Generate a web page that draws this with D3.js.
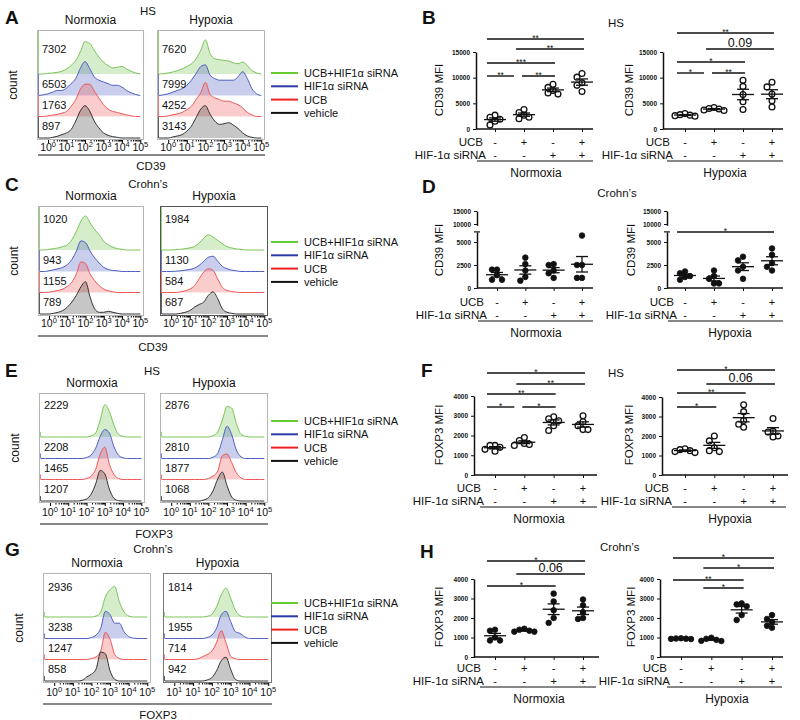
<!DOCTYPE html>
<html>
<head>
<meta charset="utf-8">
<script src="https://cdn.jsdelivr.net/npm/d3@7"></script>
<style>
  body { margin: 0; background: #fff; }
  svg text { font-family: "Liberation Sans", Arial, sans-serif; fill: #111; }
</style>
</head>
<body>
<svg id="fig" width="800" height="720"></svg>
<script>
// ---- data ---------------------------------------------------------------

// Flow histograms are sampled on this log10 grid (decades).
var hist_decades = [-0.5, -0.25, 0, 0.25, 0.5, 0.75, 1, 1.25, 1.5, 1.75, 2, 2.25,
                    2.5, 2.75, 3, 3.25, 3.5, 3.75, 4, 4.25, 4.5, 4.75, 5];
var hist_series = ["UCB+HIF1α siRNA", "HIF1α siRNA", "UCB", "vehicle"];
var tick_decades = [0, 1, 2, 3, 4, 5];
var tick_exps = ["0", "1", "2", "3", "4", "5"];
var tick_exps_g_hyp = ["1", "1", "2", "3", "4", "5"];

// A: HS, CD39
var a_norm_mfi = [7302, 6503, 1763, 897];
var a_norm_hist = [
  [0,0,0.02,0.03,0.05,0.08,0.15,0.25,0.4,0.65,0.95,0.9,0.7,0.5,0.35,0.25,0.18,0.2,0.22,0.15,0.08,0.03,0],
  [0,0.02,0.05,0.1,0.15,0.15,0.22,0.35,0.5,0.8,1.0,0.8,0.55,0.45,0.4,0.35,0.3,0.3,0.25,0.15,0.08,0.03,0],
  [0,0,0.02,0.04,0.06,0.1,0.15,0.3,0.5,0.8,0.95,0.95,0.75,0.55,0.35,0.22,0.15,0.12,0.08,0.05,0.02,0,0],
  [0,0,0,0.02,0.05,0.1,0.15,0.25,0.5,0.8,0.95,0.8,0.5,0.3,0.15,0.08,0.04,0.02,0,0,0,0,0]
];
var a_hyp_mfi = [7620, 7999, 4252, 3143];
var a_hyp_hist = [
  [0,0.01,0.03,0.06,0.1,0.15,0.22,0.3,0.45,0.7,1.0,0.6,0.45,0.42,0.4,0.38,0.33,0.3,0.35,0.25,0.1,0.03,0],
  [0,0.02,0.05,0.1,0.15,0.2,0.3,0.45,0.65,0.85,0.9,0.6,0.5,0.45,0.45,0.45,0.45,0.55,0.7,0.5,0.2,0.05,0],
  [0,0,0.02,0.05,0.08,0.12,0.2,0.3,0.5,0.7,1.0,0.65,0.55,0.5,0.45,0.45,0.4,0.35,0.25,0.12,0.05,0,0],
  [0,0,0,0.03,0.06,0.1,0.2,0.35,0.6,0.85,0.95,0.7,0.5,0.4,0.42,0.45,0.38,0.28,0.15,0.06,0.02,0,0]
];

// C: Crohn's, CD39
var c_norm_mfi = [1020, 943, 1155, 789];
var c_norm_hist = [
  [0,0,0.02,0.04,0.06,0.1,0.15,0.3,0.55,0.85,1.0,0.8,0.6,0.45,0.25,0.15,0.08,0.04,0.02,0,0,0,0],
  [0,0,0.02,0.05,0.08,0.12,0.2,0.35,0.6,0.9,0.85,0.6,0.4,0.25,0.12,0.06,0.03,0.02,0,0,0,0,0],
  [0,0,0.01,0.03,0.06,0.1,0.18,0.3,0.55,0.9,0.85,0.55,0.35,0.2,0.1,0.05,0.02,0,0,0,0,0,0],
  [0,0,0,0.02,0.05,0.1,0.2,0.35,0.55,0.8,0.95,0.5,0.15,0.05,0.05,0.08,0.05,0.02,0,0,0,0,0]
];
var c_hyp_mfi = [1984, 1130, 584, 687];
var c_hyp_hist = [
  [0,0,0,0.01,0.02,0.04,0.06,0.1,0.2,0.35,0.45,0.38,0.28,0.18,0.1,0.06,0.03,0.02,0,0,0,0,0],
  [0,0,0,0.01,0.02,0.04,0.06,0.1,0.18,0.3,0.42,0.45,0.3,0.15,0.08,0.04,0.02,0,0,0,0,0,0],
  [0,0,0,0,0.02,0.05,0.1,0.2,0.4,0.6,0.7,0.65,0.4,0.15,0.06,0.03,0.01,0,0,0,0,0,0],
  [0,0,0,0,0.02,0.05,0.1,0.2,0.28,0.35,0.55,0.65,0.45,0.15,0.05,0.02,0,0,0,0,0,0,0]
];

// E: HS, FOXP3
var e_norm_mfi = [2229, 2208, 1465, 1207];
var e_norm_hist = [
  [0,0,0,0,0,0,0,0,0,0,0,0.03,0.12,0.5,0.95,0.75,0.35,0.08,0.02,0,0,0,0],
  [0,0,0,0,0,0,0,0,0,0,0.03,0.1,0.3,0.65,0.85,0.75,0.35,0.1,0.02,0,0,0,0],
  [0,0,0,0,0,0,0,0,0,0,0.03,0.1,0.3,0.75,0.95,0.45,0.15,0.03,0,0,0,0,0],
  [0,0,0,0,0,0,0,0,0,0.02,0.06,0.2,0.5,0.9,0.8,0.35,0.08,0.01,0,0,0,0,0]
];
var e_hyp_mfi = [2876, 2810, 1877, 1068];
var e_hyp_hist = [
  [0,0,0,0,0,0,0,0,0,0,0,0.04,0.15,0.5,0.9,0.85,0.4,0.08,0.02,0,0,0,0],
  [0,0,0,0,0,0,0,0,0,0,0,0.04,0.15,0.55,0.95,0.7,0.25,0.05,0,0,0,0,0],
  [0,0,0,0,0,0,0,0,0,0,0.03,0.1,0.25,0.7,0.75,0.5,0.2,0.05,0,0,0,0,0],
  [0,0,0,0,0,0,0,0,0,0.03,0.1,0.3,0.65,0.85,0.45,0.12,0.02,0,0,0,0,0,0]
];

// G: Crohn's, FOXP3
var g_norm_mfi = [2936, 3238, 1247, 858];
var g_norm_hist = [
  [0,0,0,0,0,0,0,0,0,0,0,0.03,0.15,0.6,0.8,0.9,0.45,0.15,0.03,0,0,0,0],
  [0,0,0,0,0,0,0,0,0,0,0.03,0.1,0.3,0.8,0.7,0.45,0.45,0.2,0.06,0.01,0,0,0],
  [0,0,0,0,0,0,0,0,0,0,0.03,0.08,0.25,0.8,0.6,0.15,0.03,0,0,0,0,0,0],
  [0,0,0,0,0,0,0,0,0.02,0.12,0.2,0.35,0.85,0.8,0.3,0.05,0,0,0,0,0,0,0]
];
var g_hyp_mfi = [1814, 1955, 714, 942];
var g_hyp_hist = [
  [0,0,0,0,0,0,0,0,0,0.02,0.08,0.3,0.65,0.85,0.55,0.2,0.04,0,0,0,0,0,0],
  [0,0,0,0,0,0,0,0,0,0.03,0.1,0.3,0.7,0.8,0.5,0.2,0.15,0.05,0,0,0,0,0],
  [0,0,0,0,0,0,0,0.02,0.08,0.15,0.25,0.5,0.85,0.5,0.1,0.02,0,0,0,0,0,0,0],
  [0,0,0,0,0,0,0,0,0,0.03,0.1,0.3,0.6,0.7,0.35,0.05,0,0,0,0,0,0,0]
];

// Scatter panels: UCB / HIF-1a siRNA combos, 5 donors each
var ucb_signs = ["-", "+", "-", "+"];
var hif_signs = ["-", "-", "+", "+"];

var b_norm_vals = [[2700, 2300, 1900, 1500, 800], [3800, 3200, 2700, 2000, 2300],
                   [8700, 8100, 7500, 7000, 6800], [10800, 10100, 9000, 8500, 7300]];
var b_hyp_vals  = [[3000, 2800, 2600, 2500, 2700], [4200, 4000, 3700, 3600, 3900],
                   [9500, 8300, 6700, 5300, 3800], [9100, 8200, 6800, 5500, 4300]];
var d_norm_vals = [[2000, 2000, 1400, 900, 900], [3300, 2600, 1900, 1200, 800],
                   [2600, 2500, 1900, 1600, 1100], [5700, 2500, 2500, 1100, 1100]];
var d_hyp_vals  = [[1800, 1600, 1300, 1200, 900], [1900, 1300, 1000, 500, 500],
                   [3400, 3000, 2300, 1900, 1000], [4300, 3600, 2700, 2300, 1900]];
var f_norm_vals = [[1500, 1500, 1400, 1300, 1200], [1900, 1750, 1600, 1500, 1550],
                   [2950, 2850, 2750, 2500, 2250], [3000, 2700, 2500, 2300, 2300]];
var f_hyp_vals  = [[1350, 1300, 1250, 1200, 1150], [2000, 1750, 1400, 1250, 1200],
                   [3600, 3250, 2800, 2600, 2450], [2900, 2250, 2200, 2000, 1950]];
var h_norm_vals = [[1400, 1350, 1000, 850, 850], [1450, 1400, 1350, 1300, 1300],
                   [3250, 2850, 2400, 2000, 1750], [2950, 2650, 2300, 2000, 1950]];
var h_hyp_vals  = [[960, 950, 940, 930, 920], [990, 930, 880, 830, 820],
                   [2750, 2700, 2600, 2150, 1900], [2150, 1950, 1800, 1600, 1500]];

// significance: [from group, to group, label]
var b_norm_sig = [[0, 3, "**"], [1, 3, "**"], [0, 2, "***"], [0, 1, "**"], [1, 2, "**"]];
var b_hyp_sig  = [[0, 3, "**"], [1, 3, "0.09"], [0, 2, "*"], [0, 1, "*"], [1, 2, "**"]];
var d_hyp_sig  = [[0, 3, "*"]];
var f_norm_sig = [[0, 3, "*"], [1, 3, "**"], [0, 2, "**"], [0, 1, "*"], [1, 2, "*"]];
var f_hyp_sig  = [[0, 3, "*"], [1, 3, "0.06"], [0, 2, "**"], [0, 1, "*"]];
var h_norm_sig = [[0, 3, "*"], [1, 3, "0.06"], [0, 2, "*"]];
var h_hyp_sig  = [[0, 3, "*"], [1, 3, "*"], [0, 2, "**"], [1, 2, "*"]];

// ---- style --------------------------------------------------------------

var ROW_OFFSETS = [44, 65.5, 86.5, 108];
var BOX_H = 110;
var HIST_UNIT = 34;
var LINE_COLORS = ["#78c555", "#4d5ec0", "#f05656", "#333333"];
var FILL_OPACITY = [0.3, 0.3, 0.3, 0.28];
var LEGEND_COLORS = ["#66cc33", "#2b3ba6", "#ee2020", "#111111"];

var svg = d3.select("#fig");

function txt(parent, x, y, str, size, anchor) {
  return parent.append("text")
    .attr("x", x).attr("y", y)
    .attr("font-size", size)
    .attr("text-anchor", anchor || "start")
    .text(str);
}

function panel_letter(name, x, y) {
  txt(svg, x, y, name, 19).attr("font-weight", "bold");
}

// ---- flow histogram panels ---------------------------------------------

function hist__draw_box(p, b, bi) {
  var g = svg.append("g");
  var x = d3.scaleLinear().domain([-0.6, 5.2]).range([b.x0, b.x1]);
  var top = p.top;
  var bottom = top + BOX_H;
  var clip_id = "clip-" + p.name + bi;

  g.append("clipPath").attr("id", clip_id)
    .append("rect")
    .attr("x", b.x0).attr("y", top)
    .attr("width", b.x1 - b.x0).attr("height", BOX_H);

  var plot = g.append("g").attr("clip-path", "url(#" + clip_id + ")");

  b.hist.forEach(function (vals, r) {
    var base = top + ROW_OFFSETS[r];
    var area = d3.area()
      .x(function (d, i) { return x(hist_decades[i]); })
      .y0(base)
      .y1(function (d) { return base - d * HIST_UNIT; })
      .curve(d3.curveMonotoneX);

    plot.append("path").datum(vals)
      .attr("d", area)
      .attr("fill", LINE_COLORS[r])
      .attr("fill-opacity", FILL_OPACITY[r]);

    plot.append("path").datum(vals)
      .attr("d", area.lineY1())
      .attr("fill", "none")
      .attr("stroke", LINE_COLORS[r])
      .attr("stroke-width", 1);

    // events piled on the axis show as a spike at the left edge
    var spike_top = p.edge_full ? (r === 0 ? top : top + ROW_OFFSETS[r - 1]) : base - 5;
    plot.append("line")
      .attr("x1", b.x0 + 1).attr("x2", b.x0 + 1)
      .attr("y1", base).attr("y2", spike_top)
      .attr("stroke", LINE_COLORS[r])
      .attr("stroke-width", 1.6);

    var ty = r === 0 ? top + p.first_dy : base - 8;
    txt(g, b.x0 + 5, ty, b.mfi[r], 11);
  });

  g.append("rect")
    .attr("x", b.x0 + 0.5).attr("y", top + 0.5)
    .attr("width", b.x1 - b.x0 - 1).attr("height", BOX_H - 1)
    .attr("fill", "none")
    .attr("stroke", b.border);

  // log ticks on the bottom edge
  var minor = [];
  for (var n = 0; n < 5; n++) {
    for (var k = 2; k < 10; k++) minor.push(Math.log10(k * Math.pow(10, n)));
  }
  g.append("g")
    .attr("transform", "translate(0," + bottom + ")")
    .call(d3.axisBottom(x).tickValues(tick_decades).tickSize(3).tickFormat(""))
    .call(function (s) { s.select(".domain").remove(); });
  g.append("g")
    .attr("transform", "translate(0," + bottom + ")")
    .call(d3.axisBottom(x).tickValues(minor).tickSize(1.5).tickFormat(""))
    .call(function (s) { s.select(".domain").remove(); });

  b.exps.forEach(function (e, i) {
    var t = g.append("text")
      .attr("x", x(tick_decades[i]))
      .attr("y", p.tick_y)
      .attr("font-size", 10.5)
      .attr("text-anchor", "middle");
    t.append("tspan").text("10");
    t.append("tspan").attr("dy", -4).attr("font-size", 7.5).text(e);
  });

  txt(svg, (b.x0 + b.x1) / 2, top - 6, b.cond, 12, "middle");
}

function hist__draw_panel(p) {
  panel_letter(p.name, p.letter[0], p.letter[1]);
  txt(svg, p.title[0], p.title[1], p.title_text, 11.5, "middle");

  p.boxes.forEach(function (b, bi) { hist__draw_box(p, b, bi); });

  var cx = p.boxes[0].x0 - 20;
  var cy = p.top + 55;
  txt(svg, cx, cy, "count", 12, "middle")
    .attr("transform", "rotate(-90," + cx + "," + cy + ")");

  svg.append("line")
    .attr("x1", p.line[0]).attr("x2", p.line[1])
    .attr("y1", p.line_y).attr("y2", p.line_y)
    .attr("stroke", "#111").attr("stroke-width", 1.2);
  txt(svg, p.axis_title[0], p.axis_title[1], p.axis_text, 11.5, "middle");

  // legend
  var lg = svg.append("g");
  hist_series.forEach(function (s, i) {
    var ly = p.legend_y + i * 13.3;
    lg.append("line")
      .attr("x1", 271).attr("x2", 298)
      .attr("y1", ly).attr("y2", ly)
      .attr("stroke", LEGEND_COLORS[i]).attr("stroke-width", 2);
    txt(lg, 304, ly + 4, s, 11);
  });
}

// ---- scatter (dot) panels ------------------------------------------------

// Spread points sideways when they would overlap.
function dot__swarm(vals, y, cx) {
  var sep = 5;
  var order = d3.range(vals.length).sort(function (a, b) { return vals[b] - vals[a]; });
  var placed = [];
  order.forEach(function (i) {
    var py = y(vals[i]);
    var offs = [0, -sep, sep, -2 * sep, 2 * sep];
    var px = cx;
    for (var k = 0; k < offs.length; k++) {
      px = cx + offs[k];
      var clash = placed.some(function (q) { return Math.hypot(q.x - px, q.y - py) < sep; });
      if (!clash) break;
    }
    placed.push({ x: px, y: py });
  });
  return placed;
}

function style_y_axis(s) {
  s.select(".domain").attr("stroke-width", 1.5).attr("stroke", "#111");
  s.selectAll(".tick line").attr("stroke", "#111");
  s.selectAll(".tick text")
    .attr("font-size", 6.5)
    .attr("font-weight", "bold")
    .attr("fill", "#222");
}

function dot__draw_panel(p) {
  var g = svg.append("g");
  var x = d3.scalePoint().domain([0, 1, 2, 3]).range(p.cat_x);
  var y;

  if (p.broken) {
    var lo = d3.scaleLinear().domain([0, 5000]).range([p.y0, p.y5000]);
    var hi = d3.scaleLinear().domain([10000, 15000]).range([p.y10000, p.y15000]);
    y = function (v) { return v < 8000 ? lo(v) : hi(v); };

    var lo_ax = d3.scaleLinear().domain([0, p.low_max]).range([p.y0, lo(p.low_max)]);
    var hi_ax = d3.scaleLinear().domain([9500, 15000]).range([hi(9500), hi(15000)]);
    g.append("g").attr("transform", "translate(" + p.ax + ",0)")
      .call(d3.axisLeft(lo_ax).tickValues([0, 2500, 5000]).tickSize(3).tickSizeOuter(0).tickFormat(d3.format("d")))
      .call(style_y_axis);
    g.append("g").attr("transform", "translate(" + p.ax + ",0)")
      .call(d3.axisLeft(hi_ax).tickValues([10000, 15000]).tickSize(3).tickSizeOuter(0).tickFormat(d3.format("d")))
      .call(style_y_axis);
    g.append("line")
      .attr("x1", p.ax - 3).attr("x2", p.ax + 3)
      .attr("y1", lo(p.low_max)).attr("y2", lo(p.low_max))
      .attr("stroke", "#111").attr("stroke-width", 1.2);
  }
  else {
    y = d3.scaleLinear().domain([0, p.y_max]).range([p.y0, p.y_top]);
    g.append("g").attr("transform", "translate(" + p.ax + ",0)")
      .call(d3.axisLeft(y).tickValues(p.ticks).tickSize(3).tickSizeOuter(0).tickFormat(d3.format("d")))
      .call(style_y_axis);
  }

  // x axis
  g.append("line")
    .attr("x1", p.ax).attr("x2", p.x_end)
    .attr("y1", p.y0).attr("y2", p.y0)
    .attr("stroke", "#111").attr("stroke-width", 1.5);
  g.append("g").attr("transform", "translate(0," + p.y0 + ")")
    .call(d3.axisBottom(x).tickSize(3).tickFormat(""))
    .call(function (s) {
      s.select(".domain").remove();
      s.selectAll(".tick line").attr("stroke", "#111");
    });

  // points, then mean +/- SEM on top
  p.vals.forEach(function (vals, gi) {
    var cx = x(gi);
    var pts = dot__swarm(vals, y, cx);
    g.selectAll(null).data(pts).enter().append("circle")
      .attr("cx", function (d) { return d.x; })
      .attr("cy", function (d) { return d.y; })
      .attr("r", p.filled ? 2.8 : 2.9)
      .attr("fill", p.filled ? "#111" : "#fff")
      .attr("stroke", "#111")
      .attr("stroke-width", p.filled ? 0.8 : 1.3);

    var mean = d3.mean(vals);
    var sem = d3.deviation(vals) / Math.sqrt(vals.length);
    var ym = y(mean), yl = y(mean - sem), yh = y(mean + sem);
    var seg = [[cx - 11, ym, cx + 11, ym], [cx, yl, cx, yh],
               [cx - 6, yl, cx + 6, yl], [cx - 6, yh, cx + 6, yh]];
    seg.forEach(function (s) {
      g.append("line")
        .attr("x1", s[0]).attr("y1", s[1]).attr("x2", s[2]).attr("y2", s[3])
        .attr("stroke", "#111").attr("stroke-width", 1.3);
    });
  });

  // significance bars
  p.sigs.forEach(function (s, k) {
    var yy = p.sig_y[k];
    var x1 = x(s[0]) - 8;
    var x2 = x(s[1]) + 2;
    p.sigs.forEach(function (o, m) {
      if (m !== k && p.sig_y[m] === yy) {
        if (o[0] === s[1]) x2 = x(s[1]) - 10;
        if (o[1] === s[0]) x1 = x(s[0]) - 2;
      }
    });
    g.append("line")
      .attr("x1", x1).attr("x2", x2)
      .attr("y1", yy).attr("y2", yy)
      .attr("stroke", "#111").attr("stroke-width", 1.4);
    var star = /^\*+$/.test(s[2]);
    txt(g, (x1 + x2) / 2, star ? yy + 1.5 : yy - 2.5, s[2], star ? 8.5 : 12.5, "middle");
  });

  // y label
  var lx = p.ylab[0], ly = p.ylab[1];
  txt(g, lx, ly, p.ylab_text, 11.5, "middle")
    .attr("transform", "rotate(-90," + lx + "," + ly + ")");

  // treatment table
  txt(g, p.ax + 7, p.ucb_y, "UCB", 11.5, "end");
  txt(g, p.ax + 10, p.ucb_y + 13, "HIF-1α siRNA", 11.5, "end");
  ucb_signs.forEach(function (s, i) { txt(g, x(i), p.ucb_y, s, 11, "middle"); });
  hif_signs.forEach(function (s, i) { txt(g, x(i), p.ucb_y + 13, s, 11, "middle"); });
  g.append("line")
    .attr("x1", p.line[0]).attr("x2", p.line[1])
    .attr("y1", p.ucb_y + 15).attr("y2", p.ucb_y + 15)
    .attr("stroke", "#111").attr("stroke-width", 1.2);
  txt(g, p.cond_x, p.ucb_y + 31, p.cond, 12, "middle");
}

// ---- layout -----------------------------------------------------------------

hist__draw_panel({
  name: "A", letter: [5, 24], title: [148, 15], title_text: "HS",
  top: 30, first_dy: 23, edge_full: true, tick_y: 151,
  line: [38, 265], line_y: 155, axis_title: [151, 170], axis_text: "CD39", legend_y: 73,
  boxes: [
    { x0: 37, x1: 144, hist: a_norm_hist, mfi: a_norm_mfi, exps: tick_exps, border: "#b5b5b5", cond: "Normoxia" },
    { x0: 157, x1: 265, hist: a_hyp_hist, mfi: a_hyp_mfi, exps: tick_exps, border: "#b5b5b5", cond: "Hypoxia" }
  ]
});

hist__draw_panel({
  name: "C", letter: [5, 191], title: [148, 188], title_text: "Crohn’s",
  top: 206, first_dy: 17, edge_full: true, tick_y: 327,
  line: [38, 268], line_y: 336, axis_title: [153, 351], axis_text: "CD39", legend_y: 242,
  boxes: [
    { x0: 38, x1: 144, hist: c_norm_hist, mfi: c_norm_mfi, exps: tick_exps, border: "#b5b5b5", cond: "Normoxia" },
    { x0: 160, x1: 268, hist: c_hyp_hist, mfi: c_hyp_mfi, exps: tick_exps, border: "#555", cond: "Hypoxia" }
  ]
});

hist__draw_panel({
  name: "E", letter: [5, 377], title: [152, 375], title_text: "HS",
  top: 393, first_dy: 16, edge_full: false, tick_y: 516,
  line: [40, 268], line_y: 524, axis_title: [154, 538], axis_text: "FOXP3", legend_y: 421,
  boxes: [
    { x0: 39, x1: 145, hist: e_norm_hist, mfi: e_norm_mfi, exps: tick_exps, border: "#b5b5b5", cond: "Normoxia" },
    { x0: 160, x1: 268, hist: e_hyp_hist, mfi: e_hyp_mfi, exps: tick_exps, border: "#b5b5b5", cond: "Hypoxia" }
  ]
});

hist__draw_panel({
  name: "G", letter: [5, 556], title: [153, 553], title_text: "Crohn’s",
  top: 573, first_dy: 18, edge_full: false, tick_y: 696,
  line: [43, 272], line_y: 704, axis_title: [158, 719], axis_text: "FOXP3", legend_y: 603,
  boxes: [
    { x0: 43, x1: 151, hist: g_norm_hist, mfi: g_norm_mfi, exps: tick_exps, border: "#b5b5b5", cond: "Normoxia" },
    { x0: 163, x1: 272, hist: g_hyp_hist, mfi: g_hyp_mfi, exps: tick_exps_g_hyp, border: "#777", cond: "Hypoxia" }
  ]
});

// B
panel_letter("B", 422, 24);
txt(svg, 608, 27, "HS", 11.5);
dot__draw_panel({
  ax: 476, x_end: 593, y0: 129, y_top: 52, y_max: 15000, ticks: [0, 5000, 10000, 15000],
  cat_x: [495, 582], vals: b_norm_vals, filled: false,
  sigs: b_norm_sig, sig_y: [39, 49, 63, 76, 76],
  ylab: [443, 90], ylab_text: "CD39 MFI", ucb_y: 146, line: [477, 593], cond_x: 536, cond: "Normoxia"
});
dot__draw_panel({
  ax: 663, x_end: 783, y0: 129, y_top: 52, y_max: 15000, ticks: [0, 5000, 10000, 15000],
  cat_x: [685, 772], vals: b_hyp_vals, filled: false,
  sigs: b_hyp_sig, sig_y: [33, 49, 62, 73, 73],
  ylab: [633, 90], ylab_text: "CD39 MFI", ucb_y: 146, line: [667, 783], cond_x: 725, cond: "Hypoxia"
});

// D
panel_letter("D", 422, 193);
txt(svg, 617, 197, "Crohn’s", 11.5, "middle");
dot__draw_panel({
  ax: 477, x_end: 593, y0: 288, broken: true, y5000: 242, y10000: 224, y15000: 211, low_max: 6100,
  cat_x: [497, 582], vals: d_norm_vals, filled: true,
  sigs: [], sig_y: [],
  ylab: [443, 250], ylab_text: "CD39 MFI", ucb_y: 306, line: [478, 593], cond_x: 536, cond: "Normoxia"
});
dot__draw_panel({
  ax: 667, x_end: 783, y0: 288, broken: true, y5000: 242, y10000: 224, y15000: 211, low_max: 6100,
  cat_x: [685, 772], vals: d_hyp_vals, filled: true,
  sigs: d_hyp_sig, sig_y: [232],
  ylab: [635, 250], ylab_text: "CD39 MFI", ucb_y: 306, line: [668, 783], cond_x: 730, cond: "Hypoxia"
});

// F
panel_letter("F", 421, 377);
txt(svg, 608, 377, "HS", 11.5);
dot__draw_panel({
  ax: 474, x_end: 597, y0: 475, y_top: 396, y_max: 4000, ticks: [0, 1000, 2000, 3000, 4000],
  cat_x: [495, 583], vals: f_norm_vals, filled: false,
  sigs: f_norm_sig, sig_y: [373, 384, 394, 407, 407],
  ylab: [443, 435], ylab_text: "FOXP3 MFI", ucb_y: 492, line: [480, 597], cond_x: 539, cond: "Normoxia"
});
dot__draw_panel({
  ax: 662, x_end: 788, y0: 475, y_top: 397, y_max: 4000, ticks: [0, 1000, 2000, 3000, 4000],
  cat_x: [685, 773], vals: f_hyp_vals, filled: false,
  sigs: f_hyp_sig, sig_y: [370, 384, 393, 407],
  ylab: [633, 435], ylab_text: "FOXP3 MFI", ucb_y: 492, line: [672, 786], cond_x: 730, cond: "Hypoxia"
});

// H
panel_letter("H", 420, 558);
txt(svg, 600, 551, "Crohn’s", 11.5);
dot__draw_panel({
  ax: 474, x_end: 599, y0: 657, y_top: 579, y_max: 4000, ticks: [0, 1000, 2000, 3000, 4000],
  cat_x: [495, 583], vals: h_norm_vals, filled: true,
  sigs: h_norm_sig, sig_y: [561, 574, 586],
  ylab: [443, 617], ylab_text: "FOXP3 MFI", ucb_y: 672, line: [480, 596], cond_x: 539, cond: "Normoxia"
});
dot__draw_panel({
  ax: 660, x_end: 783, y0: 657, y_top: 579, y_max: 4000, ticks: [0, 1000, 2000, 3000, 4000],
  cat_x: [681, 772], vals: h_hyp_vals, filled: true,
  sigs: h_hyp_sig, sig_y: [558, 568, 580, 588],
  ylab: [635, 617], ylab_text: "FOXP3 MFI", ucb_y: 672, line: [667, 782], cond_x: 727, cond: "Hypoxia"
});
</script>
</body>
</html>
